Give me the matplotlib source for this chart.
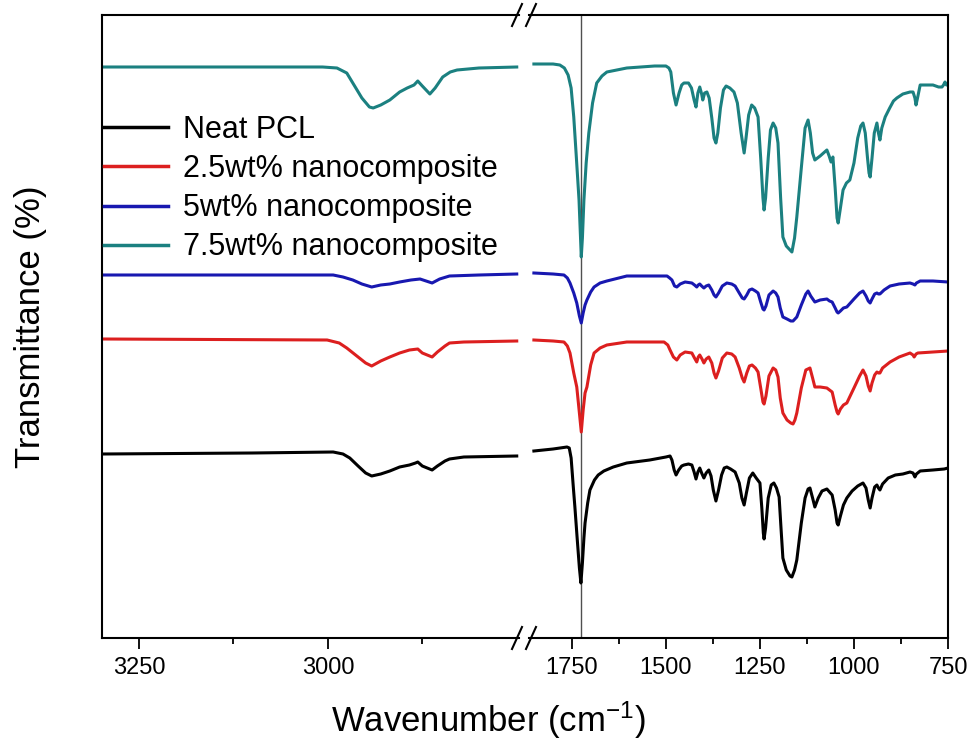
import matplotlib
matplotlib.use('Agg')
import matplotlib.pyplot as plt
from matplotlib.lines import Line2D
from matplotlib.ticker import FixedLocator

plt.rcParams['font.family'] = ['Liberation Sans', 'DejaVu Sans']
plt.rcParams['mathtext.fontset'] = 'custom'
plt.rcParams['mathtext.rm'] = 'Liberation Sans'
plt.rcParams['mathtext.default'] = 'regular'

labels = ['Neat PCL', '2.5wt% nanocomposite', '5wt% nanocomposite', '7.5wt% nanocomposite']
colors = ['#000000', '#dc1f1f', '#1818b0', '#1b8080']

# ---- C-H stretching region (left segment), transmittance in a.u. ----
pcl_l_wn = [3298, 3100, 2993, 2980, 2971, 2960, 2950, 2942, 2930, 2918, 2905, 2892, 2884,
            2881, 2875, 2862, 2855, 2845, 2839, 2820, 2750]
pcl_l_t = [184, 185, 186, 184, 180, 172, 165, 162, 164, 167, 171, 173, 175,
           176, 172, 168, 172, 177, 179, 181, 182]
nc25_l_wn = [3298, 3001, 2985, 2975, 2960, 2950, 2942, 2930, 2918, 2905, 2892, 2881, 2875,
             2862, 2855, 2845, 2839, 2820, 2750]
nc25_l_t = [299, 298, 295, 290, 281, 275, 272, 277, 281, 285, 288, 289, 285,
            281, 286, 292, 295, 296, 297]
nc5_l_wn = [3298, 2993, 2980, 2967, 2955, 2942, 2930, 2918, 2905, 2890, 2878, 2870, 2862,
            2852, 2839, 2800, 2750]
nc5_l_t = [363, 363, 361, 358, 354, 351, 353, 354, 356, 358, 359, 357, 355,
           359, 362, 363, 364]
nc75_l_wn = [3298, 3007, 2988, 2975, 2967, 2955, 2945, 2940, 2930, 2918, 2905, 2895, 2886,
             2881, 2875, 2865, 2858, 2848, 2838, 2829, 2800, 2750]
nc75_l_t = [571, 571, 570, 565, 555, 540, 531, 530, 533, 538, 546, 550, 553,
            557, 552, 544, 550, 561, 566, 568, 570, 571]

# ---- fingerprint region (right segment) ----
pcl_r_wn = [1851, 1800, 1763, 1757, 1752, 1746, 1742, 1736, 1730, 1726, 1722, 1718, 1715,
            1708, 1702, 1690, 1680, 1665, 1640, 1604, 1543, 1500, 1489, 1484, 1478, 1473,
            1466, 1458, 1452, 1440, 1431, 1425, 1420, 1415, 1410, 1405, 1399, 1393, 1386,
            1380, 1374, 1367, 1360, 1352, 1345, 1338, 1328, 1316, 1305, 1298, 1292, 1286,
            1278, 1269, 1260, 1250, 1245, 1241, 1239, 1235, 1228, 1220, 1213, 1206, 1199,
            1194, 1189, 1180, 1170, 1165, 1158, 1152, 1140, 1130, 1122, 1117, 1110, 1104,
            1095, 1085, 1072, 1065, 1058, 1050, 1045, 1042, 1036, 1028, 1019, 1005, 990,
            976, 968, 962, 957, 952, 945, 939, 935, 931, 924, 909, 890, 870, 851, 843,
            838, 834, 824, 790, 760, 750]
pcl_r_t = [187, 189, 191, 190, 180, 150, 131, 100, 70, 55, 75, 100, 115,
           135, 148, 158, 163, 167, 171, 175, 178, 181, 182, 178, 168, 163,
           168, 172, 173, 174, 173, 166, 159, 166, 170, 165, 160, 165, 168,
           162, 148, 137, 148, 163, 170, 171, 169, 166, 155, 140, 133, 145,
           160, 165, 160, 155, 130, 105, 99, 110, 140, 153, 155, 150, 141,
           110, 80, 68, 62, 61, 68, 78, 115, 140, 149, 150, 140, 131,
           140, 147, 149, 146, 143, 128, 115, 113, 122, 133, 140, 147, 152,
           155, 150, 138, 130, 140, 151, 153, 150, 148, 154, 160, 163, 164, 166, 165,
           161, 164, 167, 168, 169, 170]

nc25_r_wn = [1851, 1800, 1771, 1762, 1755, 1745, 1737, 1730, 1725, 1720, 1715, 1710, 1700,
             1691, 1675, 1657, 1604, 1505, 1495, 1489, 1480, 1471, 1462, 1449, 1431, 1424,
             1418, 1414, 1410, 1404, 1399, 1393, 1386, 1378, 1372, 1367, 1360, 1350, 1338,
             1325, 1316, 1305, 1297, 1292, 1285, 1278, 1271, 1262, 1255, 1248, 1242, 1239,
             1234, 1226, 1215, 1208, 1202, 1196, 1189, 1178, 1168, 1162, 1157, 1152, 1140,
             1128, 1117, 1110, 1104, 1090, 1072, 1065, 1058, 1050, 1045, 1042, 1036, 1028,
             1019, 1000, 985, 976, 968, 962, 957, 952, 945, 939, 935, 931, 924, 904, 880,
             851, 843, 840, 835, 830, 790, 750]
nc25_r_t = [298, 297, 296, 292, 285, 265, 251, 225, 206, 228, 245, 251, 273,
            285, 290, 293, 296, 296, 293, 288, 281, 278, 283, 286, 285, 280,
            276, 281, 283, 279, 275, 279, 281, 275, 265, 260, 267, 280, 285,
            284, 281, 270, 260, 256, 265, 272, 273, 270, 266, 250, 236, 234,
            242, 262, 270, 268, 261, 240, 225, 218, 215, 214, 218, 225, 250,
            268, 270, 260, 251, 251, 250, 248, 246, 233, 226, 224, 229, 233,
            235, 250, 262, 268, 262, 252, 247, 255, 263, 266, 265, 265, 270, 276, 281,
            285, 283, 281, 284, 285, 286, 287]

nc5_r_wn = [1851, 1800, 1771, 1762, 1755, 1745, 1737, 1730, 1725, 1720, 1715, 1710, 1700,
            1691, 1675, 1657, 1604, 1497, 1490, 1484, 1477, 1471, 1462, 1449, 1431, 1424,
            1418, 1414, 1410, 1405, 1399, 1393, 1386, 1378, 1372, 1367, 1360, 1350, 1338,
            1325, 1316, 1305, 1297, 1292, 1285, 1278, 1271, 1262, 1255, 1248, 1242, 1239,
            1234, 1226, 1215, 1208, 1202, 1196, 1189, 1178, 1168, 1162, 1157, 1152, 1140,
            1128, 1122, 1115, 1104, 1090, 1072, 1065, 1058, 1050, 1045, 1042, 1036, 1028,
            1019, 1000, 985, 976, 968, 962, 957, 952, 945, 939, 935, 931, 920, 904, 880,
            851, 843, 838, 834, 824, 790, 750]
nc5_r_t = [365, 364, 363, 360, 355, 345, 335, 322, 315, 325, 333, 338, 346,
           351, 355, 357, 362, 362, 360, 358, 352, 351, 354, 356, 355, 353,
           351, 353, 354, 352, 350, 352, 353, 348, 343, 341, 345, 352, 355,
           354, 352, 345, 340, 339, 343, 348, 349, 347, 345, 336, 329, 328,
           332, 343, 347, 345, 341, 330, 321, 319, 317, 317, 319, 321, 333,
           344, 347, 342, 336, 338, 339, 337, 336, 330, 326, 325, 327, 330,
           331, 339, 345, 347, 342, 337, 335, 339, 344, 345, 344, 344, 348, 352, 354,
           355, 354, 353, 355, 357, 357, 356]

nc75_r_wn = [1851, 1800, 1782, 1770, 1760, 1752, 1745, 1738, 1731, 1727, 1725, 1722, 1718,
             1712, 1705, 1695, 1684, 1670, 1657, 1604, 1530, 1500, 1492, 1487, 1480, 1473,
             1465, 1458, 1452, 1440, 1432, 1425, 1420, 1415, 1410, 1405, 1402, 1397, 1391,
             1385, 1378, 1372, 1367, 1362, 1355, 1347, 1340, 1330, 1319, 1310, 1300, 1292,
             1287, 1280, 1272, 1264, 1255, 1248, 1242, 1239, 1235, 1228, 1222, 1215, 1208,
             1202, 1195, 1189, 1180, 1170, 1165, 1158, 1152, 1140, 1130, 1122, 1116, 1110,
             1104, 1090, 1072, 1066, 1061, 1056, 1050, 1045, 1042, 1036, 1029, 1020, 1011,
             1000, 990, 982, 976, 970, 964, 960, 957, 952, 946, 939, 935, 931, 926, 917,
             905, 895, 886, 870, 851, 843, 838, 835, 831, 824, 810, 790, 775, 766, 762,
             758, 754, 750]
nc75_r_t = [574, 574, 573, 570, 563, 550, 521, 480, 438, 400, 381, 400, 438,
            475, 505, 535, 555, 562, 566, 570, 572, 572, 570, 566, 545, 533,
            545, 553, 555, 555, 550, 538, 531, 545, 551, 544, 538, 545, 546,
            540, 520, 500, 495, 505, 530, 548, 552, 550, 546, 535, 505, 485,
            500, 523, 533, 530, 521, 480, 440, 428, 440, 480, 508, 515, 510,
            495, 440, 401, 392, 388, 386, 400, 421, 470, 510, 518, 505, 485,
            478, 482, 488, 482, 476, 481, 450, 420, 415, 430, 448, 455, 458,
            475, 500, 512, 515, 505, 480, 465, 461, 480, 505, 515, 505, 498, 510, 521,
            530, 537, 540, 544, 546, 546, 540, 533, 540, 553, 553, 553, 551, 551, 553,
            556, 553, 553]

carbonyl_wn = 1725

left_series = [(pcl_l_wn, pcl_l_t), (nc25_l_wn, nc25_l_t), (nc5_l_wn, nc5_l_t), (nc75_l_wn, nc75_l_t)]
right_series = [(pcl_r_wn, pcl_r_t), (nc25_r_wn, nc25_r_t), (nc5_r_wn, nc5_r_t), (nc75_r_wn, nc75_r_t)]

W, H = 974, 746
fig = plt.figure(figsize=(W / 100, H / 100), dpi=100)
y0 = (H - 638) / H
y1 = (H - 15) / H
ax_l = fig.add_axes([102 / W, y0, (519 - 102) / W, y1 - y0])
ax_r = fig.add_axes([529 / W, y0, (948 - 529) / W, y1 - y0], sharey=ax_l)

lw = 2.2
handles = []
for (wn, t), c, lab in zip(left_series, colors, labels):
    h, = ax_l.plot(wn, t, color=c, lw=lw, label=lab, solid_joinstyle='round')
    handles.append(h)
for (wn, t), c in zip(right_series, colors):
    ax_r.plot(wn, t, color=c, lw=lw, solid_joinstyle='round')

ax_r.axvline(carbonyl_wn, color='#505050', lw=1.0, zorder=0)

ax_l.set_xlim(3299, 2747)
ax_r.set_xlim(1864, 750)
ax_l.set_ylim(0, 623)

for ax in (ax_l, ax_r):
    for s in ax.spines.values():
        s.set_linewidth(1.5)
    ax.tick_params(axis='y', left=False, right=False, labelleft=False, labelright=False)
    ax.tick_params(axis='x', which='major', direction='out', length=8, width=1.3,
                   labelsize=17, pad=6, top=False)
    ax.tick_params(axis='x', which='minor', direction='out', length=4.5, width=1.3, top=False)

ax_l.spines['right'].set_visible(False)
ax_r.spines['left'].set_visible(False)

ax_l.xaxis.set_major_locator(FixedLocator([3250, 3000]))
ax_l.xaxis.set_minor_locator(FixedLocator([3125, 2875]))
ax_r.xaxis.set_major_locator(FixedLocator([1750, 1500, 1250, 1000, 750]))
ax_r.xaxis.set_minor_locator(FixedLocator([1625, 1375, 1125, 875]))

# break marks
for xc in (517, 531):
    for yc in (638, 15):
        fig.add_artist(Line2D([(xc - 5) / W, (xc + 5) / W],
                              [(H - yc - 11) / H, (H - yc + 11) / H],
                              transform=fig.transFigure, color='black', lw=1.5))

leg = ax_l.legend(handles=handles, labels=labels, loc='upper left',
                  bbox_to_anchor=(104 / W, 1 - 115 / H), bbox_transform=fig.transFigure,
                  frameon=False, fontsize=22, handlelength=2.1, handletextpad=0.5,
                  labelspacing=0.3, borderpad=0, borderaxespad=0)
for lh in leg.get_lines():
    lh.set_linewidth(2.5)

fig.text(488 / W, 1 - 720 / H, 'Wavenumber (cm$^{-1}$)', ha='center', va='center', fontsize=25)
fig.text(31 / W, 1 - 327 / H, 'Transmittance (%)', ha='center', va='center',
         rotation=90, fontsize=25)

fig.savefig('out.png', dpi=100)
